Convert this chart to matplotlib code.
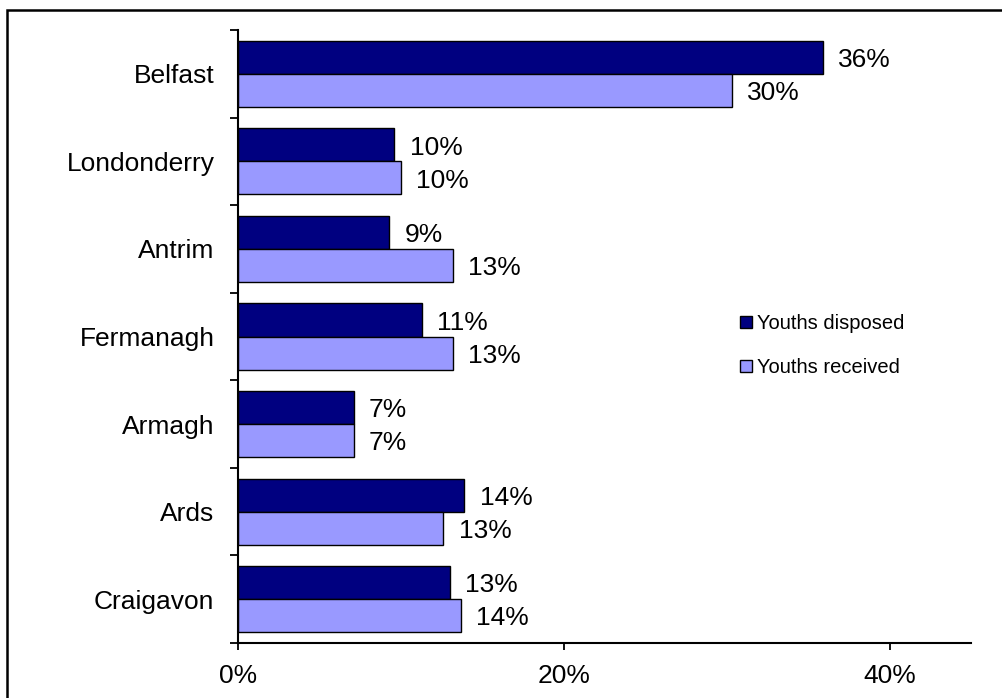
import matplotlib
matplotlib.use("Agg")
import matplotlib.pyplot as plt
from matplotlib.patches import Rectangle
import numpy as np

plt.rcParams['font.family'] = ['Liberation Sans', 'DejaVu Sans']

categories = ["Belfast", "Londonderry", "Antrim", "Fermanagh", "Armagh", "Ards", "Craigavon"]
disposed = [35.9, 9.6, 9.3, 11.3, 7.1, 13.9, 13.0]
received = [30.3, 10.0, 13.2, 13.2, 7.1, 12.6, 13.7]
disposed_labels = ["36%", "10%", "9%", "11%", "7%", "14%", "13%"]
received_labels = ["30%", "10%", "13%", "13%", "7%", "13%", "14%"]
series_names = ["Youths disposed", "Youths received"]
xticks = [0, 20, 40]
xtick_labels = ["0%", "20%", "40%"]

fig = plt.figure(figsize=(10.03, 6.98), dpi=100)
ax = fig.add_axes([238/1003, 55/698, (971-238)/1003, (643-30)/698])

y = np.arange(len(categories))
h = 0.377
b1 = ax.barh(y - h/2, disposed, height=h, color="#000080", edgecolor="black", linewidth=1.0, label=series_names[0])
b2 = ax.barh(y + h/2, received, height=h, color="#9999FF", edgecolor="black", linewidth=1.0, label=series_names[1])

for bars, labs in ((b1, disposed_labels), (b2, received_labels)):
    for rect, lab in zip(bars, labs):
        ax.annotate(lab, xy=(rect.get_width(), rect.get_y() + rect.get_height()/2),
                    xytext=(11, -2), textcoords="offset points", ha="left", va="center",
                    fontsize=19)

ax.set_ylim(len(categories) - 0.5, -0.5)
ax.set_xlim(0, 45)
ax.set_yticks(y)
ax.set_yticklabels(categories, fontsize=19)
ax.set_yticks(np.arange(len(categories) + 1) - 0.5, minor=True)
ax.tick_params(axis="y", which="major", length=0, pad=17)
ax.tick_params(axis="y", which="minor", length=6, width=1.3, direction="out")
ax.set_xticks(xticks)
ax.set_xticklabels(xtick_labels, fontsize=19)
ax.tick_params(axis="x", length=5, width=1.3, direction="out", pad=10)

for s in ("top", "right"):
    ax.spines[s].set_visible(False)
for s in ("left", "bottom"):
    ax.spines[s].set_linewidth(1.5)

leg = ax.legend(loc="upper left", bbox_to_anchor=((740-238)/733, 1 - (314-30)/613), frameon=False,
                fontsize=14.5, handlelength=0.6, handleheight=0.6, handletextpad=0.25,
                labelspacing=1.25, borderpad=0, borderaxespad=0)

fig.patches.append(Rectangle((7.5/1003, -0.1), 1.2, 1 - 9.5/698 + 0.1, transform=fig.transFigure,
                             fill=False, edgecolor="black", linewidth=1.8))

fig.savefig("out.png", dpi=100)
